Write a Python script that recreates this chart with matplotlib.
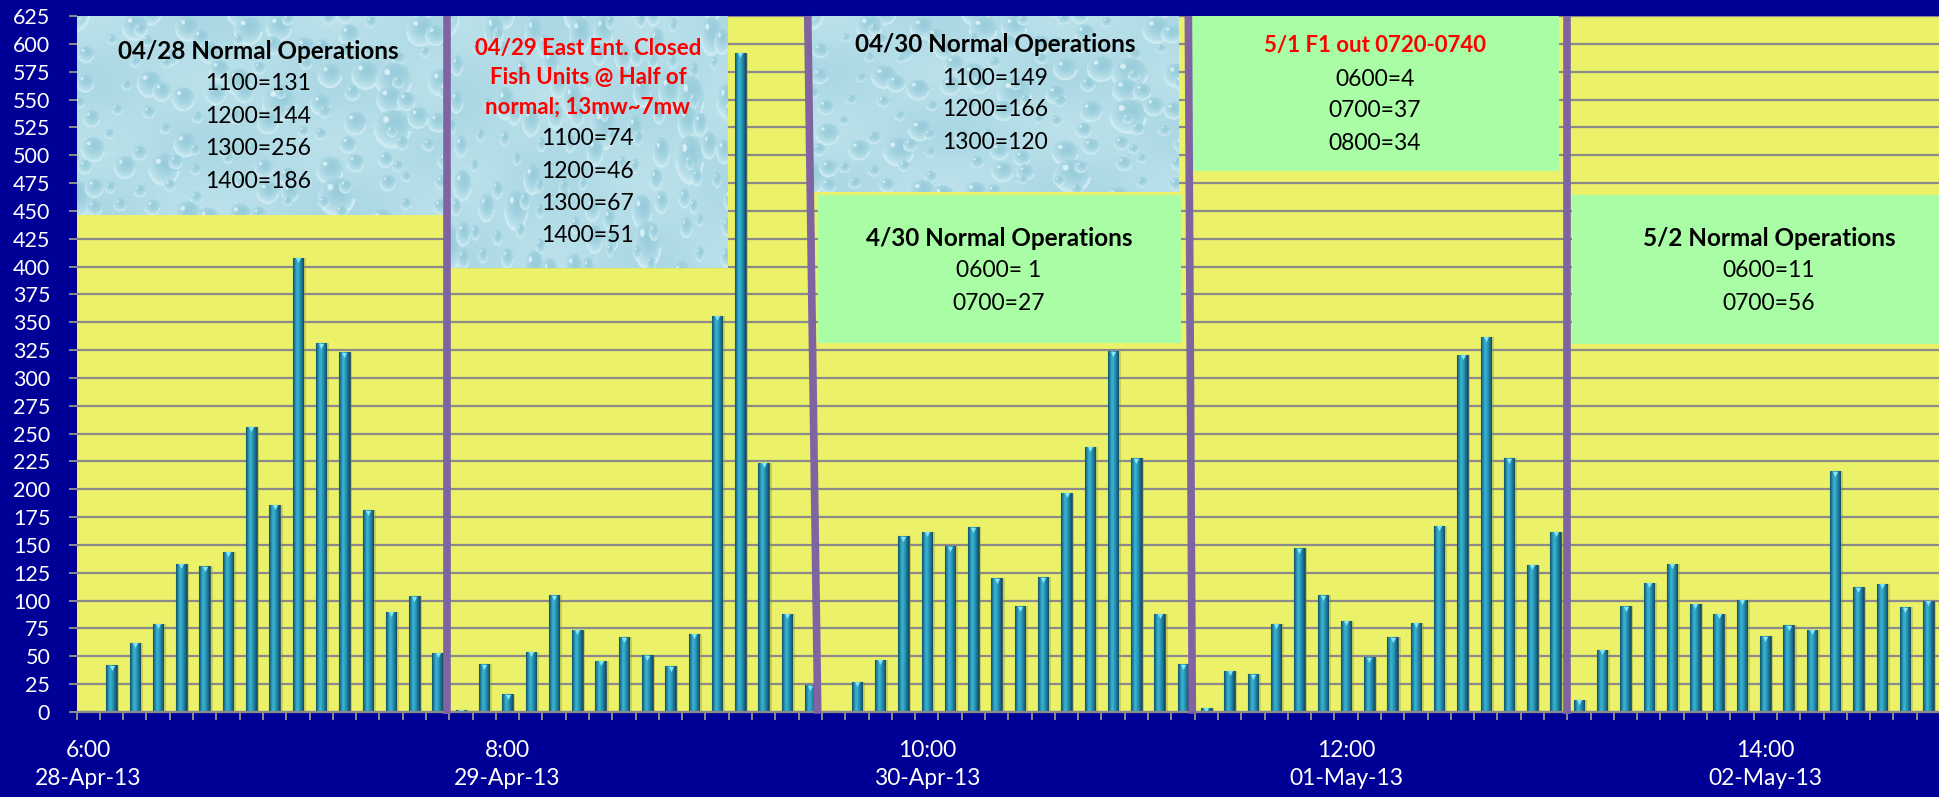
import numpy as np
import matplotlib
matplotlib.use("Agg")
import matplotlib.pyplot as plt
from matplotlib.colors import LinearSegmentedColormap
from matplotlib.patches import Rectangle

plt.rcParams['font.family'] = ['Lato', 'DejaVu Sans']

# hourly counts, 0600 .. 2100, one list per day
days = ["28-Apr-13", "29-Apr-13", "30-Apr-13", "01-May-13", "02-May-13"]
hours = list(range(6, 22))
counts_0428 = [1, 42, 62, 79, 133, 131, 144, 256, 186, 408, 331, 323, 181, 90, 104, 53]
counts_0429 = [2, 43, 16, 54, 105, 74, 46, 67, 51, 41, 70, 356, 592, 224, 88, 24]
counts_0430 = [1, 27, 47, 158, 162, 149, 166, 120, 95, 121, 197, 238, 324, 228, 88, 43]
counts_0501 = [4, 37, 34, 79, 147, 105, 82, 49, 67, 80, 167, 321, 337, 228, 132, 162]
counts_0502 = [11, 56, 95, 116, 133, 97, 88, 101, 68, 78, 74, 216, 112, 115, 94, 100]
label_every = 18

counts = counts_0428 + counts_0429 + counts_0430 + counts_0501 + counts_0502
slots = [(d, h) for d in days for h in hours]
x = np.arange(len(counts))

# note boxes: (x0, x1, y0, y1, style, text x, [(text, y, color, bold), ...])
notes = [
    (-0.5, 15.2, 446, 625, "water", 7.3, [
        ("04/28 Normal Operations", 593, "black", True),
        ("1100=131", 564, "black", False),
        ("1200=144", 534.6, "black", False),
        ("1300=256", 505.6, "black", False),
        ("1400=186", 476.2, "black", False)]),
    (15.54, 27.45, 399, 625, "water", 21.45, [
        ("04/29 East Ent. Closed", 595.4, "red", True),
        ("Fish Units @ Half of", 569.6, "red", True),
        ("normal; 13mw~7mw", 542.7, "red", True),
        ("1100=74", 515.2, "black", False),
        ("1200=46", 485.8, "black", False),
        ("1300=67", 456.8, "black", False),
        ("1400=51", 428.3, "black", False)]),
    (31.04, 46.82, 467, 625, "water", 38.93, [
        ("04/30 Normal Operations", 599, "black", True),
        ("1100=149", 569, "black", False),
        ("1200=166", 540.6, "black", False),
        ("1300=120", 511.2, "black", False)]),
    (31.31, 46.9, 331, 464.3, "green", 39.1, [
        ("4/30 Normal Operations", 425.4, "black", True),
        ("0600= 1", 396.3, "black", False),
        ("0700=27", 367, "black", False)]),
    (47.37, 63.14, 486, 625, "green", 55.24, [
        ("5/1 F1 out 0720-0740", 598.3, "red", True),
        ("0600=4", 568.4, "black", False),
        ("0700=37", 540, "black", False),
        ("0800=34", 510.7, "black", False)]),
    (63.7, 80.0, 330.5, 464.7, "green", 72.16, [
        ("5/2 Normal Operations", 425.6, "black", True),
        ("0600=11", 396.3, "black", False),
        ("0700=56", 366.4, "black", False)]),
]
separators = [(15.41, 15.41), (30.89, 31.32), (47.23, 47.40), (63.48, 63.48)]


def droplets(nx=380, ny=260, step=30):
    # water-drop backdrop for the note boxes
    gx, gy = np.meshgrid(np.arange(nx), np.arange(ny))
    field = 0.68 + 0.05 * np.sin(gx / 41.0 + 1.3) * np.cos(gy / 27.0)
    for j in range(-step, ny, step):
        for i in range(-step, nx, step):
            h1 = np.sin(i * 12.9898 + j * 78.233) * 43758.5453
            h1 -= np.floor(h1)
            h2 = np.sin(i * 39.346 + j * 11.135) * 24634.6345
            h2 -= np.floor(h2)
            cx, cy = i + step * h1, j + step * h2
            r = 5 + 17 * h1 * h2
            dx, dy = (gx - cx) / r, (gy - cy) / (r * 1.3)
            d = np.hypot(dx, dy)
            inside = d < 1
            shade = 0.55 + 0.18 * d * d + 0.12 * dy - 0.05 * dx
            field = np.where(inside, shade, field)
            rim = (d > 0.86) & (d < 1.0) & (dy > 0.1)
            field = np.where(rim, 0.86, field)
            hl = np.hypot(dx + 0.35, dy + 0.5) < 0.16
            field = np.where(hl, 0.9, field)
    return field


bar_cmap = LinearSegmentedColormap.from_list("bar", [
    (0.0, "#124f63"), (0.15, "#1f7e9c"), (0.38, "#3ab6d7"),
    (0.6, "#2b99bb"), (0.85, "#1c6a86"), (1.0, "#124a5d")])
water_cmap = LinearSegmentedColormap.from_list(
    "water", ["#8cc4d4", "#a9d7e3", "#c3e6ee", "#dff3f7"])

fig = plt.figure(figsize=(19.4, 7.97), dpi=100, facecolor="#000096")
ax = fig.add_axes([76.6 / 1940, 85 / 797, 1 - 76.6 / 1940, 696 / 797])
ax.set_facecolor("#ebf26a")

ax.yaxis.grid(True, color="#8a8a8a", linewidth=1.6, zorder=0.5)
ax.set_axisbelow(True)

# soft shadow behind each bar
ax.bar(x + 0.06, counts, width=0.56, color="#8f9440", alpha=0.35,
       linewidth=0, zorder=1.5)
bars = ax.bar(x, counts, width=0.45, color="#2388aa", edgecolor="#3c5f66",
              linewidth=0.8, zorder=2)
grad = np.linspace(0, 1, 64).reshape(1, -1)
for p in bars:
    bx, bw, bh = p.get_x(), p.get_width(), p.get_height()
    im = ax.imshow(grad, extent=[bx, bx + bw, 0, bh], aspect="auto",
                   cmap=bar_cmap, zorder=2.1, interpolation="bilinear")
    im.set_clip_path(p)
ax.scatter(x, np.array(counts) - 2.2, marker="v", s=14, color="#86e4f6",
           linewidths=0, zorder=2.2)

tex = droplets()
for x0, x1, y0, y1, style, xc, lines in notes:
    if style == "water":
        ax.imshow(tex, extent=[x0, x1, y0, y1], aspect="auto", cmap=water_cmap,
                  vmin=0.45, vmax=0.95, zorder=3, interpolation="bilinear")
    else:
        ax.add_patch(Rectangle((x0, y0), x1 - x0, y1 - y0, facecolor="#a9fda5",
                               edgecolor="none", zorder=3))
    for txt, ty, col, bold in lines:
        if col == "red":
            size = 16.0
        else:
            size = 17.5 if bold else 16.5
        ax.text(xc, ty, txt, ha="center", va="center", color=col,
                fontsize=size, fontweight="bold" if bold else "normal",
                zorder=4)

for xt, xb in separators:
    ax.plot([xt, xb], [625, -1.5], color="#8064a2", linewidth=5.5,
            solid_capstyle="butt", zorder=5, clip_on=False)

ax.set_xlim(-0.5, 79.34)
ax.set_ylim(0, 625)
ax.set_yticks(range(0, 626, 25))

ticks = x[::label_every]
ax.set_xticks(ticks)
ax.set_xticklabels([f"{slots[i][1]}:00\n{slots[i][0]}" for i in ticks],
                   linespacing=1.45)
ax.set_xticks(np.arange(-0.5, len(counts), 1), minor=True)
ax.tick_params(axis="x", which="major", length=0, pad=20, labelsize=16.5,
               labelcolor="white")
ax.tick_params(axis="x", which="minor", length=6, width=1.4, color="#8c8c8c")
ax.tick_params(axis="y", length=6, width=1.4, color="#8c8c8c", pad=13,
               labelsize=15.5, labelcolor="white")

for s in ("left", "right", "top"):
    ax.spines[s].set_visible(False)
ax.spines["bottom"].set_color("#8c8c8c")
ax.spines["bottom"].set_linewidth(1.6)

fig.savefig("out.png", dpi=100, facecolor=fig.get_facecolor())
